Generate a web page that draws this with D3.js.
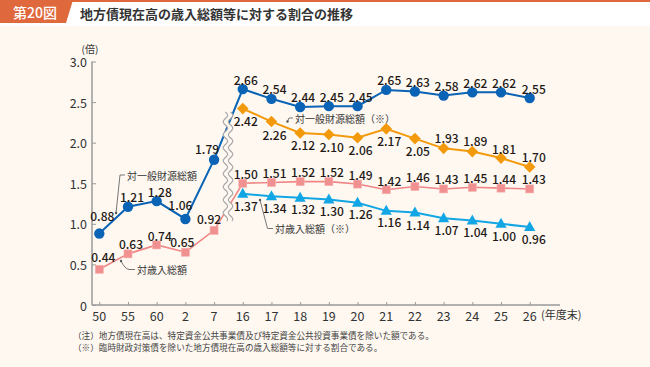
<!DOCTYPE html>
<html><head><meta charset="utf-8">
<script src="https://cdn.jsdelivr.net/npm/d3@7"></script>
<style>
html,body{margin:0;padding:0;background:#fff;}
svg{display:block;font-family:"Noto Sans CJK JP","Noto Sans",sans-serif;}
</style></head>
<body>
<svg id="chart" width="650" height="367"></svg>
<script>
// ---- data ----
const categories = ["50","55","60","2","7","16","17","18","19","20","21","22","23","24","25","26"];
const generalRevenue = [0.88,1.21,1.28,1.06,1.79,2.66,2.54,2.44,2.45,2.45,2.65,2.63,2.58,2.62,2.62,2.55];
const totalRevenue   = [0.44,0.63,0.74,0.65,0.92,1.50,1.51,1.52,1.52,1.49,1.42,1.46,1.43,1.45,1.44,1.43];
const generalRevenueEx = [null,null,null,null,null,2.42,2.26,2.12,2.10,2.06,2.17,2.05,1.93,1.89,1.81,1.70];
const totalRevenueEx   = [null,null,null,null,null,1.37,1.34,1.32,1.30,1.26,1.16,1.14,1.07,1.04,1.00,0.96];
const yTicks = [0,0.5,1.0,1.5,2.0,2.5,3.0];
const yTickLabels = ["0","0.5","1.0","1.5","2.0","2.5","3.0"];

// ---- label placement (style, not data) ----
const offBlue = [[3,-18],[4,-10],[3,-10],[-5,-14],[-7,-11],[3,-10],[3,-10],[3,-10],[3,-10],[3,-10],[3,-10],[3,-10],[3,-10],[3,-10],[3,-10],[4,-10]];
const offOrange = [null,null,null,null,null,[3,12],[3,13],[3,12],[3,12],[3,11.5],[3,11.5],[3,11.5],[3,-11],[3,-11],[3,-10],[4,-10.5]];
const offPink = [[4,-13],[3,-10],[3,-9],[-3,-11],[-5,-12],[3,-10],[3,-10],[3,-10],[3,-10],[3,-10],[3,-9],[3,-10],[3,-10],[3,-10],[3,-10],[4,-10]];
const offCyan = [null,null,null,null,null,[3,12],[3,11.5],[3,11],[3,11],[3,11],[3,10.5],[3,12],[3,11],[3,11],[3,12],[4,11]];

const svg = d3.select("#chart");
const W = 650, H = 367;

// background
svg.append("rect").attr("x",0).attr("y",0).attr("width",W).attr("height",H).attr("fill","#ffffff");
svg.append("rect").attr("x",0).attr("y",26).attr("width",W).attr("height",H-26).attr("fill","#fef8f1");
// header
const hdr = "#e0683d";
svg.append("rect").attr("x",0).attr("y",0).attr("width",W).attr("height",2).attr("fill",hdr);
svg.append("path").attr("d","M0,0 L73,0 L66,23 L0,23 Z").attr("fill",hdr);
svg.append("text").attr("x",35).attr("y",12).attr("text-anchor","middle").attr("dominant-baseline","central")
  .attr("fill","#fff").attr("font-size",14).attr("font-weight",500).text("第20図");
svg.append("text").attr("x",80).attr("y",13).attr("dominant-baseline","central")
  .attr("fill","#333").attr("font-size",13).attr("font-weight",700).text("地方債現在高の歳入総額等に対する割合の推移");

// scales
const x = d3.scalePoint().domain(categories).range([99.3,529.7]);
const y = d3.scaleLinear().domain([0,3]).range([305,61.5]);

const axisColor = "#9a9a9a";
// y axis
svg.append("line").attr("x1",92).attr("x2",92).attr("y1",y(3)).attr("y2",y(0)).attr("stroke",axisColor).attr("stroke-width",1.5);
const yAxis = d3.axisRight(y).tickValues(yTicks).tickSize(4).tickFormat("");
const gy = svg.append("g").attr("transform","translate(92,0)").call(yAxis);
gy.select(".domain").remove();
gy.selectAll(".tick line").attr("stroke",axisColor).attr("stroke-width",1);
svg.selectAll(".ylab").data(yTicks).enter().append("text")
  .attr("x",87).attr("y",d=>y(d)).attr("text-anchor","end").attr("dominant-baseline","central")
  .attr("font-size",12.5).attr("fill","#333").text((d,i)=>yTickLabels[i]);
svg.append("text").attr("x",90).attr("y",48).attr("text-anchor","middle").attr("dominant-baseline","central")
  .attr("font-size",10).attr("fill","#333").text("(倍)");

// x axis
svg.append("line").attr("x1",92).attr("x2",560).attr("y1",y(0)).attr("y2",y(0)).attr("stroke",axisColor).attr("stroke-width",1.5);
const xAxis = d3.axisTop(x).tickSize(3).tickFormat("");
const gx = svg.append("g").attr("transform",`translate(0,${y(0)})`).call(xAxis);
gx.select(".domain").remove();
gx.selectAll(".tick line").attr("stroke",axisColor).attr("stroke-width",1);
svg.selectAll(".xlab").data(categories).enter().append("text")
  .attr("x",d=>x(d)).attr("y",315).attr("text-anchor","middle").attr("dominant-baseline","central")
  .attr("font-size",12.5).attr("fill","#333").text(d=>d);
svg.append("text").attr("x",541).attr("y",314).attr("dominant-baseline","central")
  .attr("font-size",11).attr("fill","#333").text("(年度末)");

// series definitions
const series = [
  {vals: totalRevenue, color:"#ef8585", fill:"#f09090", shape:"square", off: offPink, lw:1.6},
  {vals: totalRevenueEx, color:"#12a6e4", fill:"#12a6e4", shape:"triangle", off: offCyan, lw:2},
  {vals: generalRevenueEx, color:"#f39a0c", fill:"#f39a0c", shape:"diamond", off: offOrange, lw:2},
  {vals: generalRevenue, color:"#0a63b5", fill:"#0a63b5", shape:"circle", off: offBlue, lw:2}
];

const line = d3.line().defined(d=>d.v!=null).x(d=>x(d.c)).y(d=>y(d.v));
series.forEach(s=>{
  const pts = categories.map((c,i)=>({c, v:s.vals[i], i}));
  s.pts = pts;
  svg.append("path").attr("d",line(pts)).attr("fill","none").attr("stroke",s.color).attr("stroke-width",s.lw);
});

// break symbol (wavy double line)
(function(){
  const cx = 228, y0 = 112, y1 = 221, amp = 2.2, per = 13;
  function wave(dx){
    const pts = [];
    for(let t=y0;t<=y1;t+=1){ pts.push([cx+dx+amp*Math.sin((t-y0)/per*Math.PI*2), t]); }
    return pts;
  }
  const l1 = wave(-2.6), l2 = wave(2.6);
  const area = l1.concat(l2.slice().reverse());
  svg.append("path").attr("d","M"+area.map(p=>p.join(",")).join("L")+"Z").attr("fill","#fef8f1");
  [l1,l2].forEach(l=>svg.append("path").attr("d",d3.line()(l)).attr("fill","none").attr("stroke","#a8a8a8").attr("stroke-width",1.2));
})();

// markers
series.forEach(s=>{
  s.pts.filter(p=>p.v!=null).forEach(p=>{
    const px = x(p.c), py = y(p.v);
    if(s.shape==="circle"){
      svg.append("circle").attr("cx",px).attr("cy",py).attr("r",5.2).attr("fill",s.fill);
    } else if(s.shape==="square"){
      svg.append("rect").attr("x",px-4).attr("y",py-4).attr("width",8).attr("height",8).attr("fill",s.fill).attr("stroke","#f6b0ad").attr("stroke-width",0.6);
    } else if(s.shape==="diamond"){
      svg.append("path").attr("d",`M${px},${py-5.8}L${px+5.8},${py}L${px},${py+5.8}L${px-5.8},${py}Z`).attr("fill",s.fill);
    } else {
      svg.append("path").attr("d",`M${px},${py-6}L${px+5.6},${py+4}L${px-5.6},${py+4}Z`).attr("fill",s.fill);
    }
  });
});

// value labels
series.forEach(s=>{
  s.pts.filter(p=>p.v!=null).forEach(p=>{
    const o = s.off[p.i];
    svg.append("text").attr("x",x(p.c)+o[0]).attr("y",y(p.v)+o[1])
      .attr("text-anchor","middle").attr("dominant-baseline","central")
      .attr("font-size",12).attr("font-weight",500).attr("fill","#231815").text(p.v.toFixed(2));
  });
});

// annotations
const annColor = "#555";
function ann(text, tx, ty, path, dot){
  svg.append("path").attr("d",path).attr("fill","none").attr("stroke",annColor).attr("stroke-width",0.8);
  svg.append("circle").attr("cx",dot[0]).attr("cy",dot[1]).attr("r",1.2).attr("fill",annColor);
  svg.append("text").attr("x",tx).attr("y",ty).attr("dominant-baseline","central")
    .attr("font-size",10).attr("fill","#333").text(text);
}
ann("対一般財源総額",127,175,"M125,175 L120,175 L116,213",[116,213]);
ann("対歳入総額",137,269.5,"M135,269.5 L129,269.5 Q125,269 121,261",[121,261]);
ann("対一般財源総額（※）",295,118,"M293,118 L289,118 L287.5,121.5",[287.5,121.5]);
ann("対歳入総額（※）",275,228.5,"M273,228.5 L267.5,228.5 L260,200",[260,200]);

// notes
svg.append("text").attr("x",73).attr("y",334.5).attr("dominant-baseline","central").attr("font-size",8.6).attr("fill","#444")
  .text("（注）地方債現在高は、特定資金公共事業債及び特定資金公共投資事業債を除いた額である。");
svg.append("text").attr("x",73).attr("y",346.5).attr("dominant-baseline","central").attr("font-size",8.6).attr("fill","#444")
  .text("（※）臨時財政対策債を除いた地方債現在高の歳入総額等に対する割合である。");
</script>
</body></html>
